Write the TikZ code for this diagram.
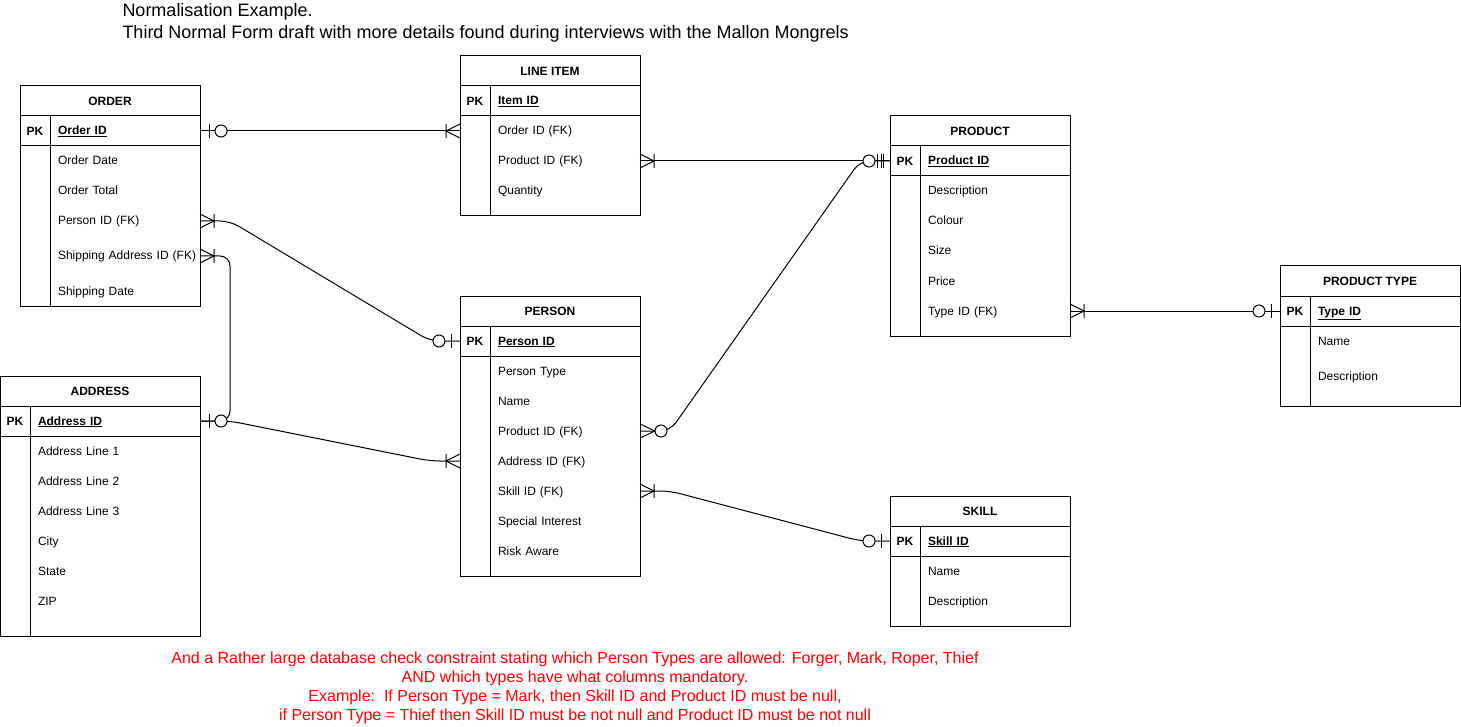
\documentclass[tikz,border=0pt]{standalone}
\usepackage{fontspec}
\setmainfont{Liberation Sans}
\usepackage{xcolor}
\usepackage{tikz}
\usetikzlibrary{positioning}
\newcommand\erfont{\fontsize{12}{14}\selectfont}

\begin{document}
\begin{tikzpicture}[
  x=1pt, y=-1pt, line width=1pt,
  font=\erfont,
  tbl/.style={draw, anchor=north west, inner sep=0pt, outer sep=0pt},
  hdr/.style={draw, anchor=north west, minimum width=#1, minimum height=30pt,
    inner sep=0pt, outer sep=0pt, font=\erfont\bfseries},
  hdr/.default=180pt,
  pkcell/.style={draw, anchor=north west, minimum width=30pt, minimum height=30pt,
    inner sep=0pt, outer sep=0pt, font=\erfont\bfseries},
  field/.style={text width=#1, align=left, inner xsep=8pt, inner ysep=0pt,
    outer sep=0pt, minimum height=30pt, text height=10pt, text depth=2pt},
  field/.default=134pt,
  keyfld/.style={field=#1, draw, font=\erfont\bfseries},
  keyfld/.default=134pt,
  rel/.style={draw, rounded corners=10pt},
  crowmand/.pic={\draw (0,-7) -- (14,0) -- (0,7) (14,-7) -- (14,7);},
  crowopt/.pic={\draw (0,-7) -- (15,0) -- (0,7); \draw[fill=white] (21,0) circle (6pt);},
  oneopt/.pic={\draw (9,-7) -- (9,7); \draw[fill=white] (21,0) circle (6pt);},
  onemand/.pic={\draw (7,-7) -- (7,7) (13,-7) -- (13,7);},
  note/.style={align=center, text=red, font=\fontsize{16}{19}\selectfont}
]
\useasboundingbox (0,0) rectangle (1461,727);

\node[anchor=north west, align=left, inner sep=0pt, font=\fontsize{18}{22}\selectfont]
  (title) at (122,3) {Normalisation Example.\\Third Normal Form draft with more details found during interviews with the Mallon Mongrels};

\node[tbl, minimum width=180pt, minimum height=220pt] (order) at (20,86) {};
\node[hdr] (order-h) at (order.north west) {ORDER};
\node[pkcell] (order-pk) at (order-h.south west) {PK};
\node[keyfld, right=0pt of order-pk] (order-id) {\underline{Order ID}};
\node[field, below=0pt of order-id] (order-date) {Order Date};
\node[field, below=0pt of order-date] (order-total) {Order Total};
\node[field, below=0pt of order-total] (order-person) {Person ID (FK)};
\node[field, below=0pt of order-person, minimum height=40pt] (order-ship) {\mbox{Shipping Address ID (FK)}};
\node[field, below=0pt of order-ship] (order-shipdate) {Shipping Date};
\draw (order-pk.south east) -- (order-pk.east |- order.south);

\node[tbl, minimum width=180pt, minimum height=160pt] (lineitem) at (460,56) {};
\node[hdr] (li-h) at (lineitem.north west) {LINE ITEM};
\node[pkcell] (li-pk) at (li-h.south west) {PK};
\node[keyfld, right=0pt of li-pk] (li-id) {\underline{Item ID}};
\node[field, below=0pt of li-id] (li-order) {Order ID (FK)};
\node[field, below=0pt of li-order] (li-product) {Product ID (FK)};
\node[field, below=0pt of li-product] (li-qty) {Quantity};
\draw (li-pk.south east) -- (li-pk.east |- lineitem.south);

\node[tbl, minimum width=180pt, minimum height=220pt] (product) at (890,116) {};
\node[hdr] (product-h) at (product.north west) {PRODUCT};
\node[pkcell] (product-pk) at (product-h.south west) {PK};
\node[keyfld, right=0pt of product-pk] (product-id) {\underline{Product ID}};
\node[field, below=0pt of product-id] (product-desc) {Description};
\node[field, below=0pt of product-desc] (product-colour) {Colour};
\node[field, below=0pt of product-colour] (product-size) {Size};
\node[field, below=0pt of product-size] (product-price) {Price};
\node[field, below=0pt of product-price] (product-type) {Type ID (FK)};
\draw (product-pk.south east) -- (product-pk.east |- product.south);

\node[tbl, minimum width=180pt, minimum height=140pt] (ptype) at (1280,266) {};
\node[hdr] (ptype-h) at (ptype.north west) {PRODUCT TYPE};
\node[pkcell] (ptype-pk) at (ptype-h.south west) {PK};
\node[keyfld, right=0pt of ptype-pk] (ptype-id) {\underline{Type ID}};
\node[field, below=0pt of ptype-id] (ptype-name) {Name};
\node[field, below=0pt of ptype-name, minimum height=40pt] (ptype-desc) {Description};
\draw (ptype-pk.south east) -- (ptype-pk.east |- ptype.south);

\node[tbl, minimum width=180pt, minimum height=280pt] (person) at (460,296) {};
\node[hdr] (person-h) at (person.north west) {PERSON};
\node[pkcell] (person-pk) at (person-h.south west) {PK};
\node[keyfld, right=0pt of person-pk] (person-id) {\underline{Person ID}};
\node[field, below=0pt of person-id] (person-type) {Person Type};
\node[field, below=0pt of person-type] (person-name) {Name};
\node[field, below=0pt of person-name] (person-product) {Product ID (FK)};
\node[field, below=0pt of person-product] (person-addr) {Address ID (FK)};
\node[field, below=0pt of person-addr] (person-skill) {Skill ID (FK)};
\node[field, below=0pt of person-skill] (person-interest) {Special Interest};
\node[field, below=0pt of person-interest] (person-risk) {Risk Aware};
\draw (person-pk.south east) -- (person-pk.east |- person.south);

\node[tbl, minimum width=200pt, minimum height=260pt] (addr) at (0,376) {};
\node[hdr=200pt] (addr-h) at (addr.north west) {ADDRESS};
\node[pkcell] (addr-pk) at (addr-h.south west) {PK};
\node[keyfld=154pt, right=0pt of addr-pk] (addr-id) {\underline{Address ID}};
\node[field=154pt, below=0pt of addr-id] (addr-line1) {Address Line 1};
\node[field=154pt, below=0pt of addr-line1] (addr-line2) {Address Line 2};
\node[field=154pt, below=0pt of addr-line2] (addr-line3) {Address Line 3};
\node[field=154pt, below=0pt of addr-line3] (addr-city) {City};
\node[field=154pt, below=0pt of addr-city] (addr-state) {State};
\node[field=154pt, below=0pt of addr-state] (addr-zip) {ZIP};
\draw (addr-pk.south east) -- (addr-pk.east |- addr.south);

\node[tbl, minimum width=180pt, minimum height=130pt] (skill) at (890,496) {};
\node[hdr] (skill-h) at (skill.north west) {SKILL};
\node[pkcell] (skill-pk) at (skill-h.south west) {PK};
\node[keyfld, right=0pt of skill-pk] (skill-id) {\underline{Skill ID}};
\node[field, below=0pt of skill-id] (skill-name) {Name};
\node[field, below=0pt of skill-name] (skill-desc) {Description};
\draw (skill-pk.south east) -- (skill-pk.east |- skill.south);

\coordinate (li-order-w) at (lineitem.west |- li-order);
\coordinate (person-addr-w) at (person.west |- person-addr);

\draw[rel] (order-id.east) -- (li-order-w);
\draw[rel] (order-person.east) -- ++(30,0) -- ([xshift=-30pt]person-pk.west) -- (person-pk.west);
\draw[rel] (order-ship.east) -- ++(30,0) |- (addr-id.east);
\draw[rel] (addr-id.east) -- ++(30,0) -- ([xshift=-30pt]person-addr-w) -- (person-addr-w);
\draw[rel] (li-product.east) -- (product-pk.west);
\draw[rel] (person-product.east) -- ++(30,0) -- ([xshift=-30pt]product-pk.west) -- (product-pk.west);
\draw[rel] (person-skill.east) -- ++(30,0) -- ([xshift=-30pt]skill-pk.west) -- (skill-pk.west);
\draw[rel] (product-type.east) -- (ptype-pk.west);

\pic at (order-id.east) {oneopt};
\pic[xscale=-1] at (li-order-w) {crowmand};
\pic at (order-person.east) {crowmand};
\pic[xscale=-1] at (person-pk.west) {oneopt};
\pic at (order-ship.east) {crowmand};
\pic at (addr-id.east) {oneopt};
\pic[xscale=-1] at (person-addr-w) {crowmand};
\pic at (li-product.east) {crowmand};
\pic[xscale=-1] at (product-pk.west) {onemand};
\pic at (person-product.east) {crowopt};
\pic[xscale=-1] at (product-pk.west) {oneopt};
\pic at (person-skill.east) {crowmand};
\pic[xscale=-1] at (skill-pk.west) {oneopt};
\pic at (product-type.east) {crowmand};
\pic[xscale=-1] at (ptype-pk.west) {oneopt};

\node[note, anchor=north] (rule) at (575,648) {And a Rather large database check constraint stating which Person Types are allowed: Forger, Mark, Roper, Thief\\
AND which types have what columns mandatory.\\
Example:\ \ If Person Type = Mark, then Skill ID and Product ID must be null,\\
if Person Type = Thief then Skill ID must be not null and Product ID must be not null};
\end{tikzpicture}
\end{document}
